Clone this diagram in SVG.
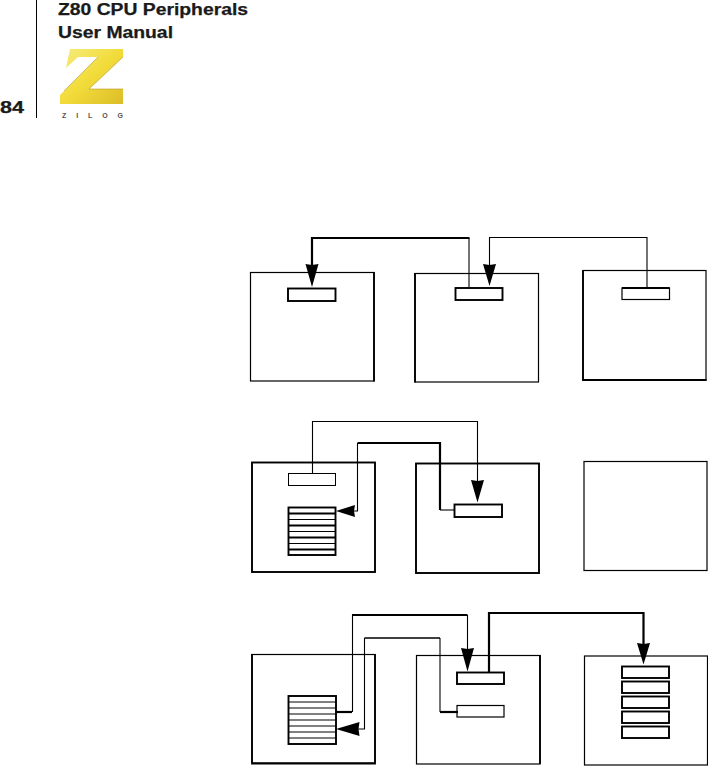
<svg xmlns="http://www.w3.org/2000/svg" width="708" height="766" viewBox="0 0 708 766">
<style>
.b{fill:#fff;stroke:#000;stroke-width:1.2}
.bb{fill:#fff;stroke:#000;stroke-width:1.9}
.s{fill:#fff;stroke:#000;stroke-width:1.9}
.k{fill:none;stroke:#000;stroke-width:1}
.kk{fill:none;stroke:#000;stroke-width:1.8}
.c{fill:none;stroke:#000;stroke-width:1.1}
.m{fill:none;stroke:#000;stroke-width:1.5}
.t{fill:none;stroke:#000;stroke-width:2.2}
.h{font-family:"Liberation Sans",Arial,sans-serif;font-weight:700;font-size:16px;fill:#1a1a1a;stroke:#1a1a1a;stroke-width:.25}
</style>
<defs>
<linearGradient id="y" x1="0" y1="0" x2="1" y2="1"><stop offset="0" stop-color="#f6ec80"/><stop offset=".5" stop-color="#f2dc3a"/><stop offset="1" stop-color="#dcbc28"/></linearGradient>
<filter id="blur" x="-5%" y="-5%" width="110%" height="110%"><feGaussianBlur stdDeviation="0.7"/></filter>
</defs>
<rect width="708" height="766" fill="#fff"/>
<g id="header">
<line x1="36.500" y1="0" x2="36.500" y2="118" stroke="#000" stroke-width="1"/>
<text class="h" x="58" y="14.500" textLength="190" lengthAdjust="spacingAndGlyphs">Z80 CPU Peripherals</text>
<text class="h" x="58" y="37.500" textLength="115" lengthAdjust="spacingAndGlyphs">User Manual</text>
<text class="h" x="0" y="113" textLength="24" lengthAdjust="spacingAndGlyphs">84</text>
</g>
<g id="logo">
<g filter="url(#blur)">
<path fill="url(#y)" d="M70 49H123V57L89 89H123V104H60V95L98 57H78L66 68Z"/>
<path fill="none" stroke="#b89a20" stroke-width="1" opacity=".6" d="M123 57L89 89H123M98 57L64 91"/>
</g>
<text x="62" y="118" font-family="Liberation Sans,sans-serif" font-size="7" font-weight="700" fill="#555" textLength="61">ZILOG</text>
</g>
<g id="row1">
<g id="r1n1"><rect class="b" x="250.500" y="272.500" width="123.500" height="108.500"/><path class="kk" d="M374 272V381.500"/><rect class="s" x="288" y="288.500" width="47.500" height="12.500"/></g>
<g id="r1n2"><rect class="b" x="415" y="273.500" width="123.500" height="108.500"/><path class="kk" d="M415 273V382.500"/><rect class="s" x="455.500" y="288" width="47" height="12"/></g>
<g id="r1n3"><rect class="b" x="583" y="270.500" width="123" height="109.500"/><path class="kk" d="M583 270V380H706.500"/><rect class="b" x="622" y="288" width="47.500" height="11.500"/><path class="kk" d="M622 288H669.500"/></g>
</g>
<g id="row2">
<g id="r2n1"><rect class="bb" x="252" y="462.500" width="123" height="109.500"/><rect class="k" x="288.500" y="473.500" width="47" height="12"/>
<rect class="s" x="288.500" y="507.500" width="47" height="47.500"/><path class="kk" d="M288 513.500H336M288 525.500H336M288 537.500H336M288 549.500H336"/><path class="k" d="M288 519.500H336M288 531.500H336M288 543.500H336"/></g>
<g id="r2n2"><rect class="bb" x="416" y="463.500" width="123" height="109.500"/><rect class="s" x="454.500" y="504.500" width="47.500" height="12.500"/></g>
<g id="r2n3"><rect class="b" x="584" y="461.500" width="123" height="109"/></g>
</g>
<g id="row3">
<g id="r3n1"><rect class="b" x="252" y="654.500" width="123" height="108.500"/><path class="kk" d="M252 654V763.500H375V654"/><rect class="s" x="288.500" y="696" width="47.500" height="48"/><path class="k" d="M288 702H336M288 708H336M288 714H336M288 720H336M288 726H336M288 732H336M288 738H336"/></g>
<g id="r3n2"><rect class="b" x="416.500" y="655.500" width="123.500" height="108.500"/><path class="kk" d="M540 655V764"/><rect class="s" x="457" y="672.500" width="47" height="11.500"/><rect class="b" x="457" y="705.500" width="47" height="11.500"/></g>
<g id="r3n3"><rect class="b" x="584.500" y="656" width="123" height="109"/>
<rect class="s" x="622" y="666.500" width="47" height="11.500"/><rect class="s" x="622" y="681.500" width="47" height="11.500"/><rect class="s" x="622" y="696.500" width="47" height="11.500"/><rect class="s" x="622" y="711.500" width="47" height="11.500"/><rect class="s" x="622" y="726.500" width="47" height="11.500"/></g>
</g>
<g id="connectors">
<path class="c" d="M469 287V238"/><path class="t" d="M469.500 238H312V266"/><path d="M305.500 264L312 265L318.500 264L312 287Z"/>
<path class="c" d="M647 287V237.500H489.500V266"/><path d="M483 264L489.500 265L496 264L489.500 286Z"/>
<path class="c" d="M312.500 473V421.500H477.500V482"/><path d="M471 480L477.500 481L484 480L477.500 502.500Z"/>
<path class="c" d="M455 510H440"/><path class="t" d="M440 510V443H357.500"/><path class="c" d="M357.500 443V511H352"/><path d="M355 505L354 511L355 517L336 511Z"/>
<path class="t" d="M336 712H352"/><path class="c" d="M352.500 712V615"/><path class="t" d="M352 615H467.500"/><path class="c" d="M467.500 615V650"/><path d="M461 648L467.500 649L474 648L467.500 671.500Z"/>
<path class="t" d="M458 712H440"/><path class="c" d="M440 712V638"/><path class="m" d="M440 638H364.500"/><path class="c" d="M364.500 638V729H356"/><path d="M359.500 722L358.500 729L359.500 736L336 729Z"/>
<path class="t" d="M489 672V613H643.500V645"/><path d="M637 643L643.500 644L650 643L643.500 664.500Z"/>
</g>
</svg>
